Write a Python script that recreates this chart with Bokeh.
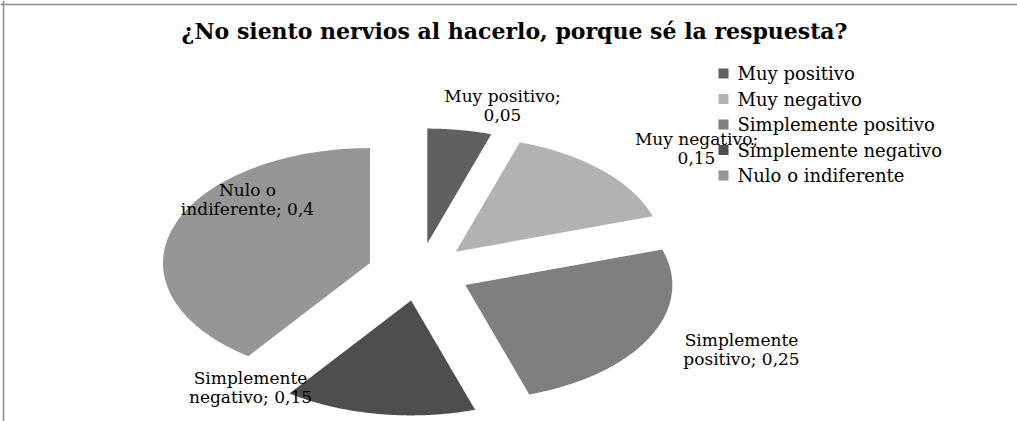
import textwrap
import numpy as np
from bokeh.plotting import figure
from bokeh.models import Range1d, Span
from bokeh.embed import file_html
from bokeh.resources import INLINE
from bokeh.core.properties import value

# ---- data ----
TITLE = "¿No siento nervios al hacerlo, porque sé la respuesta?"
CATEGORIES = ["Muy positivo", "Muy negativo", "Simplemente positivo",
              "Simplemente negativo", "Nulo o indiferente"]
VALUES = [0.05, 0.15, 0.25, 0.15, 0.4]
COLORS = ["#606060", "#b2b2b2", "#7f7f7f", "#4e4e4e", "#969696"]

# ---- layout (in reference pixel coordinates) ----
W, H = 1017, 421
X0, Y0 = 0, 0
CX, CY, RX, RY = 418.7, 271.5, 207.0, 115.0
EXPLODE = 0.25
LABEL_XY = [(502, 105), (696, 148), (741, 349), (250, 387), (247, 199)]
LEG_X, LEG_Y, LEG_STEP = 723, 73, 25.5
FONT = "DejaVu Serif"

p = figure(width=W, height=H, x_range=Range1d(X0, X0 + W), y_range=Range1d(Y0 + H, Y0),
           x_axis_type=None, y_axis_type=None, output_backend="svg",
           toolbar_location=None, min_border=0)
p.grid.visible = False
p.outline_line_color = None
p.background_fill_color = "white"
p.border_fill_color = "white"

# ---- pie slices (clockwise from 12 o'clock, exploded) ----
total = sum(VALUES)
fr = np.cumsum([0] + VALUES) / total
xs, ys = [], []
for i in range(len(VALUES)):
    a0, a1 = 2 * np.pi * fr[i], 2 * np.pi * fr[i + 1]
    am = (a0 + a1) / 2
    ox = CX + EXPLODE * RX * np.sin(am)
    oy = CY - EXPLODE * RY * np.cos(am)
    t = np.linspace(a0, a1, 120)
    xs.append([ox] + list(ox + RX * np.sin(t)))
    ys.append([oy] + list(oy - RY * np.cos(t)))
p.patches(xs, ys, fill_color=COLORS, line_color=None)

# ---- data labels ----
def fmt(v):
    return ("%g" % v).replace(".", ",")

labels = ["\n".join(textwrap.wrap(f"{c}; {fmt(v)}", 16)) for c, v in zip(CATEGORIES, VALUES)]
p.text(x=[q[0] for q in LABEL_XY], y=[q[1] for q in LABEL_XY], text=labels,
       text_font=value(FONT), text_font_size="17px", text_align="center",
       text_baseline="middle", text_line_height=0.95, text_color="black")

# ---- legend ----
n = len(CATEGORIES)
ly = [LEG_Y + LEG_STEP * i for i in range(n)]
p.scatter(x=[LEG_X] * n, y=ly, marker="square", size=10, fill_color=COLORS, line_color=None)
p.text(x=[LEG_X + 14] * n, y=ly, text=CATEGORIES, text_font=value(FONT),
       text_font_size="18px", text_align="left", text_baseline="middle", text_color="black")

# ---- title ----
p.text(x=[514], y=[30], text=[TITLE], text_font=value(FONT), text_font_size="22px",
       text_font_style="bold", text_align="center", text_baseline="middle", text_color="black")

# ---- frame lines ----
p.add_layout(Span(location=3, dimension="height", line_color="#8a8a8a", line_width=1.5))
p.add_layout(Span(location=4, dimension="width", line_color="#8a8a8a", line_width=1.5))

open("out.html", "w").write(file_html(p, INLINE))
